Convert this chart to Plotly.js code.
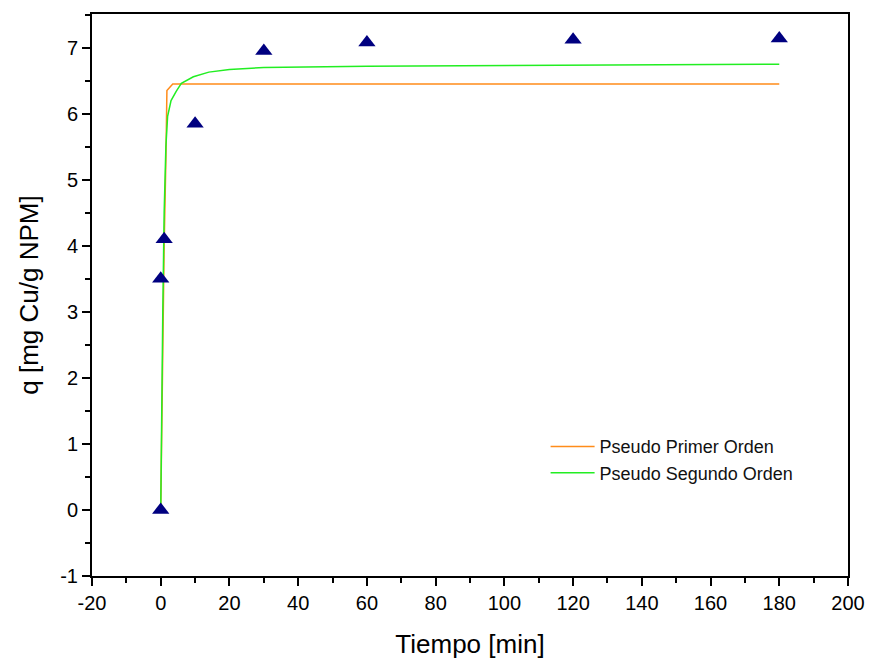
<!DOCTYPE html>
<html>
<head>
<meta charset="utf-8">
<script src="https://cdn.plot.ly/plotly-3.0.1.min.js"></script>
<style>html,body{margin:0;padding:0;background:#fff;}#chart{width:870px;height:659px;}</style>
</head>
<body>
<div id="chart"></div>
<script>
// Experimental data
const expTime = [0, 0, 1, 10, 30, 60, 120, 180];
const expQ    = [0, 3.5, 4.1, 5.85, 6.95, 7.08, 7.12, 7.14];

// Pseudo first order curve
const pfoTime = [0, 0.5, 1, 1.5, 1.8, 3.5, 10, 60, 120, 180];
const pfoQ    = [0, 2.4, 4.0, 5.3, 6.35, 6.45, 6.45, 6.45, 6.45, 6.45];

// Pseudo second order curve
const psoTime = [0, 0.3, 0.6, 1, 1.5, 2, 3, 4.5, 6, 9.5, 14, 20, 30, 60, 120, 180];
const psoQ    = [0, 1.1, 3.0, 4.5, 5.5, 5.96, 6.2, 6.34, 6.46, 6.56, 6.63, 6.67, 6.7, 6.72, 6.74, 6.75];

const names = ["Pseudo Primer Orden", "Pseudo Segundo Orden"];

// Tick labels (plain hyphen as in the original)
const xTickVals = [-20, 0, 20, 40, 60, 80, 100, 120, 140, 160, 180, 200];
const xTickText = ["-20", "0", "20", "40", "60", "80", "100", "120", "140", "160", "180", "200"];
const yTickVals = [-1, 0, 1, 2, 3, 4, 5, 6, 7];
const yTickText = ["-1", "0", "1", "2", "3", "4", "5", "6", "7"];

const traces = [
  {x: pfoTime, y: pfoQ, mode: "lines", name: names[0],
   line: {color: "#ff8c1a", width: 1.5}},
  {x: psoTime, y: psoQ, mode: "lines", name: names[1],
   line: {color: "#22ee22", width: 1.5}},
  {x: expTime, y: expQ, mode: "markers", showlegend: false,
   marker: {symbol: "triangle-up", color: "#000080", size: 15}}
];

const layout = {
  width: 870, height: 659,
  margin: {l: 92, r: 22, t: 14, b: 83},
  paper_bgcolor: "#fff", plot_bgcolor: "#fff",
  font: {family: "Arial, Liberation Sans, sans-serif", color: "#000"},
  showlegend: true,
  legend: {x: 0.6, y: 0.263, xanchor: "left", yanchor: "top",
           bgcolor: "rgba(0,0,0,0)", font: {size: 18, color: "#111"},
           tracegroupgap: 0, itemwidth: 44},
  xaxis: {
    range: [-20, 200], tickmode: "array", tickvals: xTickVals, ticktext: xTickText,
    showgrid: false, zeroline: false,
    showline: true, linecolor: "#000", linewidth: 2, mirror: true,
    ticks: "outside", ticklen: 8, tickwidth: 2, tickcolor: "#000",
    minor: {dtick: 10, tick0: 0, ticks: "outside", ticklen: 5, tickwidth: 2, tickcolor: "#000", showgrid: false},
    tickfont: {size: 20, color: "#000"},
    title: {text: "Tiempo [min]", font: {size: 26, color: "#000"}, standoff: 24}
  },
  yaxis: {
    range: [-1, 7.51], tickmode: "array", tickvals: yTickVals, ticktext: yTickText,
    showgrid: false, zeroline: false,
    showline: true, linecolor: "#000", linewidth: 2, mirror: true,
    ticks: "outside", ticklen: 8, tickwidth: 2, tickcolor: "#000",
    minor: {dtick: 0.5, tick0: 0, ticks: "outside", ticklen: 5, tickwidth: 2, tickcolor: "#000", showgrid: false},
    tickfont: {size: 20, color: "#000"},
    title: {text: "q [mg Cu/g NPM]", font: {size: 26, color: "#000"}, standoff: 14}
  }
};

Plotly.newPlot("chart", traces, layout, {displayModeBar: false, staticPlot: true});
</script>
</body>
</html>
